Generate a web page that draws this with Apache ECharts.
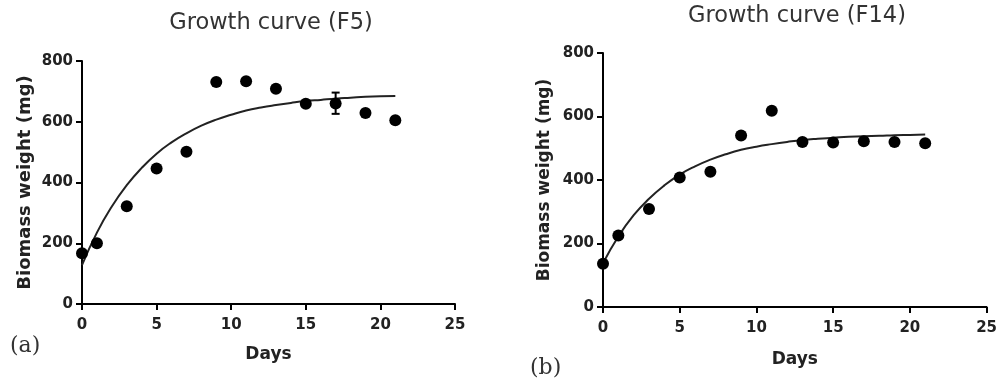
<!DOCTYPE html>
<html>
<head>
<meta charset="utf-8">
<script src="https://cdn.jsdelivr.net/npm/echarts@6/dist/echarts.min.js"></script>
<style>html,body{margin:0;padding:0;background:#fff}#c{width:1000px;height:386px}</style>
</head>
<body>
<div id="c"></div>
<script>
// ---- data ----
const titles = ['Growth curve (F5)', 'Growth curve (F14)'];
const panelTags = ['(a)', '(b)'];
const xTitle = 'Days';
const yTitle = 'Biomass weight (mg)';

const daysF5 = [0, 1, 3, 5, 7, 9, 11, 13, 15, 17, 19, 21];
const weightF5 = [167, 200, 322, 446, 501, 731, 733, 709, 659, 660, 629, 605];
// error bar at day 17: [day, low, high]
const errF5 = [[17, 626, 696]];

const daysF14 = [0, 1, 3, 5, 7, 9, 11, 13, 15, 17, 19, 21];
const weightF14 = [136, 225, 309, 408, 426, 540, 618, 520, 518, 522, 520, 516];

// fitted curves at each day 0..21
const curveDays = [0,1,2,3,4,5,6,7,8,9,10,11,12,13,14,15,16,17,18,19,20,21];
const curveF5 = [128,235,321,391,448,495,532,562,587,607,623,637,647,655,662,668,672,676,679,682,684,685];
const curveF14 = [138,222,289,341,383,417,443,464,481,495,505,513,520,526,530,533,536,538,539,541,542,543];

// ---- chart ----
const zip = (a, b) => a.map((v, i) => [v, b[i]]);
const tickFont = {fontFamily: 'DejaVu Sans', fontWeight: 'bold', fontSize: 15, color: '#222'};

function xAx(gi, gap) {
  return {
    type: 'value', gridIndex: gi, min: 0, max: 25, interval: 5,
    name: xTitle, nameLocation: 'middle', nameGap: gap,
    nameTextStyle: {fontFamily: 'DejaVu Sans', fontWeight: 'bold', fontSize: 17, color: '#222'},
    axisLine: {show: true, onZero: false, lineStyle: {color: '#000', width: 2}},
    axisTick: {show: true, length: 6, lineStyle: {color: '#000', width: 2}},
    axisLabel: Object.assign({margin: 14}, tickFont),
    splitLine: {show: false}
  };
}
function yAx(gi, gap, fs) {
  return {
    type: 'value', gridIndex: gi, min: 0, max: 800, interval: 200,
    name: yTitle, nameLocation: 'middle', nameGap: gap, nameRotate: 90,
    nameTextStyle: {fontFamily: 'DejaVu Sans', fontWeight: 'bold', fontSize: fs, color: '#222'},
    axisLine: {show: true, onZero: false, lineStyle: {color: '#000', width: 2}},
    axisTick: {show: true, length: 6, lineStyle: {color: '#000', width: 2}},
    axisLabel: Object.assign({margin: 9}, tickFont),
    splitLine: {show: false}
  };
}

function errorBar(xi, yi, data) {
  return {
    type: 'custom', xAxisIndex: xi, yAxisIndex: yi, data: data, z: 5,
    renderItem: function (params, api) {
      const lo = api.coord([api.value(0), api.value(1)]);
      const hi = api.coord([api.value(0), api.value(2)]);
      const w = 4;
      const st = {stroke: '#000', lineWidth: 2};
      return {type: 'group', children: [
        {type: 'line', shape: {x1: lo[0], y1: lo[1], x2: hi[0], y2: hi[1]}, style: st},
        {type: 'line', shape: {x1: lo[0] - w, y1: lo[1], x2: lo[0] + w, y2: lo[1]}, style: st},
        {type: 'line', shape: {x1: hi[0] - w, y1: hi[1], x2: hi[0] + w, y2: hi[1]}, style: st}
      ]};
    }
  };
}

const chart = echarts.init(document.getElementById('c'), null, {renderer: 'canvas'});
chart.setOption({
  animation: false,
  backgroundColor: '#fff',
  title: [
    {text: titles[0], left: 266, top: 7, textAlign: 'center',
     textStyle: {fontFamily: 'DejaVu Sans', fontWeight: 'normal', fontSize: 22.5, color: '#333'}},
    {text: titles[1], left: 792, top: 0, textAlign: 'center',
     textStyle: {fontFamily: 'DejaVu Sans', fontWeight: 'normal', fontSize: 22.5, color: '#333'}}
  ],
  grid: [
    {left: 82, top: 61, width: 373, height: 243},
    {left: 603, top: 53, width: 384, height: 254}
  ],
  xAxis: [xAx(0, 42), xAx(1, 44)],
  yAxis: [yAx(0, 48, 18), yAx(1, 50, 17)],
  series: [
    {type: 'line', xAxisIndex: 0, yAxisIndex: 0, data: zip(curveDays, curveF5), smooth: true, showSymbol: false,
     lineStyle: {color: '#222', width: 2}, z: 2},
    {type: 'scatter', xAxisIndex: 0, yAxisIndex: 0, data: zip(daysF5, weightF5), symbolSize: 12,
     itemStyle: {color: '#000', opacity: 1}, z: 3},
    errorBar(0, 0, errF5),
    {type: 'line', xAxisIndex: 1, yAxisIndex: 1, data: zip(curveDays, curveF14), smooth: true, showSymbol: false,
     lineStyle: {color: '#222', width: 2}, z: 2},
    {type: 'scatter', xAxisIndex: 1, yAxisIndex: 1, data: zip(daysF14, weightF14), symbolSize: 12,
     itemStyle: {color: '#000', opacity: 1}, z: 3}
  ],
  graphic: [
    {type: 'text', left: 10, top: 335, style: {text: panelTags[0], font: '22px "DejaVu Serif"', fill: '#333'}},
    {type: 'text', left: 530, top: 357, style: {text: panelTags[1], font: '22px "DejaVu Serif"', fill: '#333'}}
  ]
});
</script>
</body>
</html>
